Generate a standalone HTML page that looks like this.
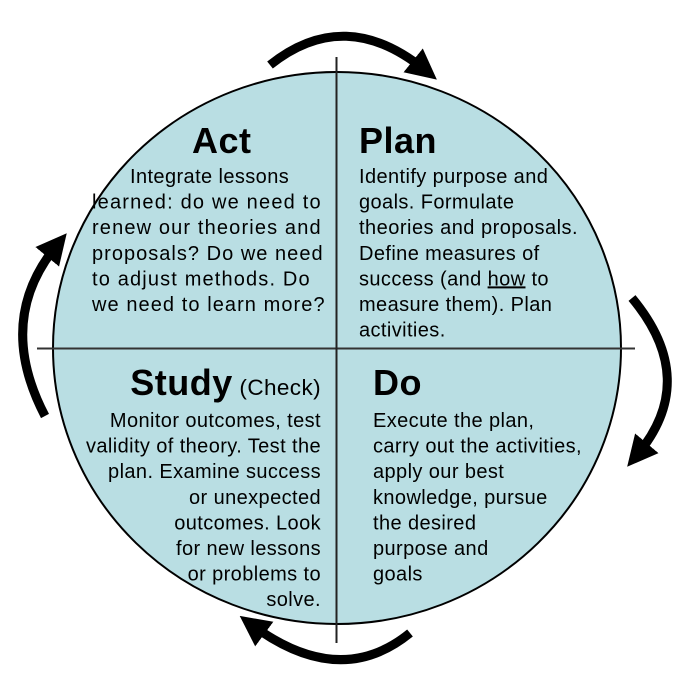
<!DOCTYPE html>
<html><head><meta charset="utf-8"><style>
html,body{margin:0;padding:0;background:#fff;}
svg{display:block;}
text{font-family:"Liberation Sans",Arial,sans-serif;fill:#000;}
.t{font-size:36px;font-weight:bold;letter-spacing:0.5px;}
.b{font-size:20px;letter-spacing:0.4px;}
</style></head><body>
<svg width="685" height="678" viewBox="0 0 685 678" xmlns="http://www.w3.org/2000/svg">
<defs>
<marker id="ah" viewBox="0 0 10 10" refX="5" refY="5" markerWidth="3.4" markerHeight="3.4" orient="auto">
<path d="M0,0 L10,5 L0,10 z" fill="#000"/>
</marker>
</defs>
<ellipse cx="337" cy="348" rx="284" ry="276" fill="#b9dee3" stroke="#000" stroke-width="2"/>
<line x1="37" y1="348.5" x2="635" y2="348.5" stroke="#333" stroke-width="2"/>
<line x1="336.5" y1="57" x2="336.5" y2="643" stroke="#222" stroke-width="2"/>
<g fill="none" stroke="#000" stroke-width="9">
<path d="M270,65 Q345,5 425,70" marker-end="url(#ah)"/>
<path d="M632,298 Q700,380 637,455" marker-end="url(#ah)"/>
<path d="M410,633 Q340,690 252,625" marker-end="url(#ah)"/>
<path d="M45,416 Q-5,320 57,245" marker-end="url(#ah)"/>
</g>
<text class="t" x="192" y="153">Act</text>
<text class="t" x="359" y="153">Plan</text>
<g class="b">
<text x="130" y="183">Integrate lessons</text>
<text x="92" y="208.6" textLength="229">learned: do we need to</text>
<text x="92" y="234.2" textLength="229">renew our theories and</text>
<text x="92" y="259.8" textLength="231">proposals? Do we need</text>
<text x="92" y="285.4" textLength="218">to adjust methods. Do</text>
<text x="92" y="311" textLength="233">we need to learn more?</text>
<text x="359" y="183">Identify purpose and</text>
<text x="359" y="208.6">goals. Formulate</text>
<text x="359" y="234.2" textLength="219">theories and proposals.</text>
<text x="359" y="259.8">Define measures of</text>
<text x="359" y="285.4">success (and <tspan text-decoration="underline">how</tspan> to</text>
<text x="359" y="311">measure them). Plan</text>
<text x="359" y="336.6">activities.</text>
</g>
<text x="321" y="395" text-anchor="end"><tspan class="t">Study</tspan><tspan font-size="22.5" letter-spacing="0.4"> (Check)</tspan></text>
<text class="t" x="373" y="395">Do</text>
<g class="b" text-anchor="end">
<text x="321" y="427">Monitor outcomes, test</text>
<text x="321" y="452.6">validity of theory. Test the</text>
<text x="321" y="478.2">plan. Examine success</text>
<text x="321" y="503.8">or unexpected</text>
<text x="321" y="529.4">outcomes. Look</text>
<text x="321" y="555">for new lessons</text>
<text x="321" y="580.6">or problems to</text>
<text x="321" y="606.2">solve.</text>
</g>
<g class="b">
<text x="373" y="427">Execute the plan,</text>
<text x="373" y="452.6">carry out the activities,</text>
<text x="373" y="478.2">apply our best</text>
<text x="373" y="503.8">knowledge, pursue</text>
<text x="373" y="529.4">the desired</text>
<text x="373" y="555">purpose and</text>
<text x="373" y="580.6">goals</text>
</g>
</svg>
</body></html>
